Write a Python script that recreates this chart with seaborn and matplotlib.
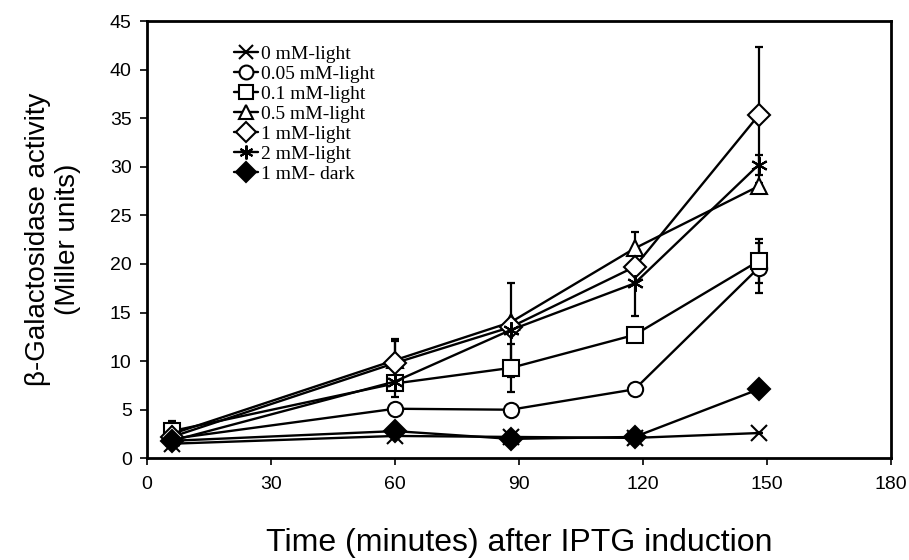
import matplotlib
matplotlib.use('Agg')
import matplotlib.pyplot as plt
import seaborn as sns

# Time points (minutes after IPTG induction)
time_min = [6, 60, 88, 118, 148]

# Mean activity (Miller units)
mM0_light = [1.5, 2.3, 2.2, 2.1, 2.6]
mM005_light = [2.0, 5.1, 5.0, 7.1, 19.6]
mM01_light = [2.8, 7.7, 9.3, 12.7, 20.3]
mM05_light = [2.5, 10.1, 14.0, 21.6, 28.0]
mM1_light = [2.2, 9.8, 13.5, 19.7, 35.3]
mM2_light = [1.8, 7.9, 13.2, 18.0, 30.2]
mM1_dark = [1.8, 2.8, 2.0, 2.2, 7.1]

# Error bars (0 = none visible)
err0 = [0, 0, 0, 0, 0]
err005 = [0, 0, 0, 0, 2.6]
err01 = [1.0, 1.4, 2.5, 0, 2.3]
err05 = [0, 2.0, 0, 1.7, 0]
err1 = [0, 2.5, 0, 0, 7.0]
err2 = [0, 0, 4.8, 3.4, 1.0]
err_dark = [0, 0, 0, 0, 0]

labels = ['0 mM-light', '0.05 mM-light', '0.1 mM-light', '0.5 mM-light',
          '1 mM-light', '2 mM-light', '1 mM- dark']
series = [mM0_light, mM005_light, mM01_light, mM05_light, mM1_light, mM2_light, mM1_dark]
errors = [err0, err005, err01, err05, err1, err2, err_dark]
markers = ['x', 'o', 's', '^', 'D', (6, 2, 0), 'D']
sizes = [11, 11, 11, 11, 11, 12, 11]
faces = ['white'] * 6 + ['black']

sns.set_style('ticks')
plt.rcParams['text.color'] = 'black'
plt.rcParams['axes.labelcolor'] = 'black'
plt.rcParams['xtick.color'] = 'black'
plt.rcParams['ytick.color'] = 'black'

fig, ax = plt.subplots(figsize=(9.09, 5.6), dpi=100)
fig.subplots_adjust(left=0.1617, right=0.980, bottom=0.1816, top=0.9625)

for vals, err, lab, mk, ms, fc in zip(series, errors, labels, markers, sizes, faces):
    ax.errorbar(time_min, vals, yerr=err, fmt='none', ecolor='black',
                elinewidth=1.6, capsize=3, capthick=1.6, zorder=2)
    sns.lineplot(x=time_min, y=vals, ax=ax, color='black', linewidth=1.7,
                 marker=mk, markersize=ms, markerfacecolor=fc,
                 markeredgecolor='black', markeredgewidth=1.5,
                 label=lab, zorder=3)

ax.set_xlim(0, 180)
ax.set_ylim(0, 45)
ax.set_xticks(range(0, 181, 30))
ax.set_yticks(range(0, 46, 5))
for side in ['left', 'right', 'top', 'bottom']:
    ax.spines[side].set_visible(True)
    ax.spines[side].set_linewidth(2.0)
    ax.spines[side].set_color('black')
ax.tick_params(direction='out', length=5, width=1.2, labelsize=14, colors='black')
ax.tick_params(axis='y', pad=6)
ax.tick_params(axis='x', pad=8)
for t in ax.get_xticklabels() + ax.get_yticklabels():
    t.set_family('Liberation Sans')

ax.set_xlabel('Time (minutes) after IPTG induction', fontsize=23,
              family='Liberation Sans', labelpad=25)
ax.set_ylabel('β-Galactosidase activity\n(Miller units)', fontsize=20,
              family='Liberation Sans', labelpad=21)

leg = ax.legend(loc='upper left', bbox_to_anchor=(0.107, 0.962), frameon=False,
                prop={'family': 'Liberation Serif', 'size': 14},
                handlelength=1.2, handletextpad=0.15, labelspacing=0.12,
                borderaxespad=0)
for h in leg.legend_handles:
    h.set_markersize(10)
for txt in leg.get_texts():
    txt.set_color('black')

plt.savefig('out.png', dpi=100)
